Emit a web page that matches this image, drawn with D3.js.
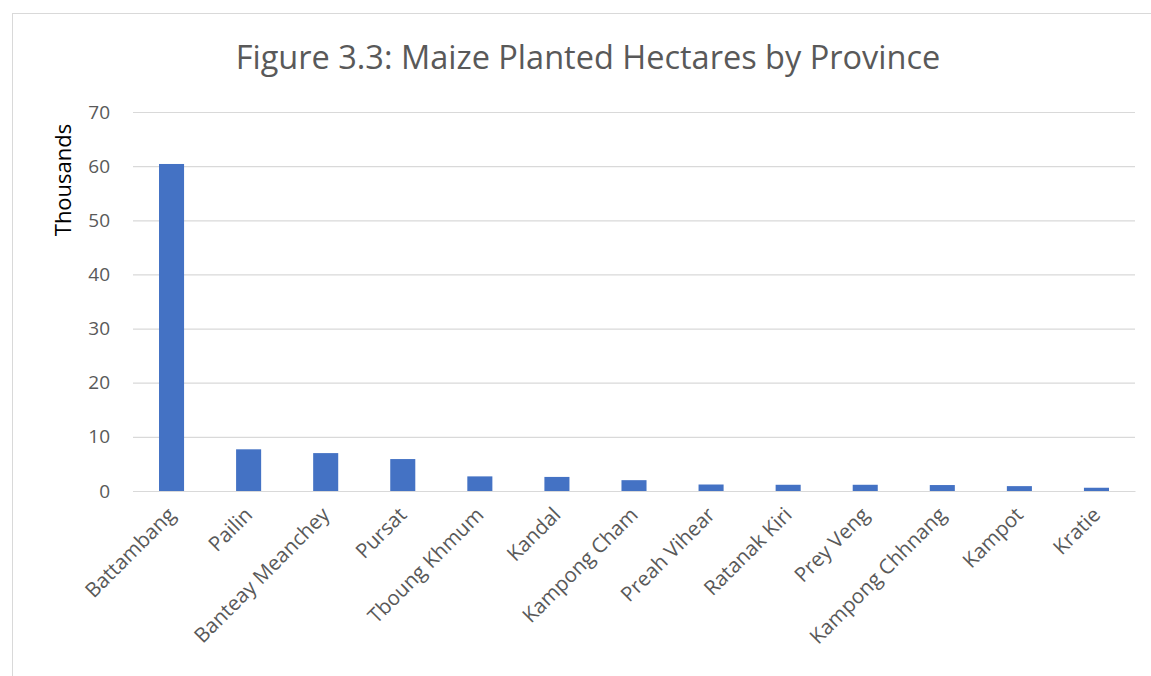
<!DOCTYPE html>
<html>
<head>
<meta charset="utf-8">
<script src="https://cdn.jsdelivr.net/npm/d3@7"></script>
<style>
  body { margin: 0; background: #fff; }
  text { font-family: "Open Sans", "Noto Sans", sans-serif; }
</style>
</head>
<body>
<svg id="chart" width="1151" height="676"></svg>
<script>
const provinces = ["Battambang", "Pailin", "Banteay Meanchey", "Pursat", "Tboung Khmum", "Kandal",
  "Kampong Cham", "Preah Vihear", "Ratanak Kiri", "Prey Veng", "Kampong Chhnang", "Kampot", "Kratie"]
const hectares = [60.4, 7.7, 7.0, 5.9, 2.7, 2.6, 2.0, 1.2, 1.15, 1.15, 1.1, 0.9, 0.6]
const yTicks = [0, 10, 20, 30, 40, 50, 60, 70]

const w = 1151
const h = 676
const plotLeft = 133
const plotRight = 1135
const plotTop = 112
const plotBottom = 491

const svg = d3.select("#chart")

// chart frame (cut off at right and bottom)
svg.append("rect")
  .attr("x", 12.5)
  .attr("y", 13.5)
  .attr("width", w + 20)
  .attr("height", h + 20)
  .attr("fill", "none")
  .attr("stroke", "#d9d9d9")

svg.append("text")
  .attr("x", 588)
  .attr("y", 69)
  .attr("text-anchor", "middle")
  .attr("font-size", 32.5)
  .attr("fill", "#595959")
  .text("Figure 3.3: Maize Planted Hectares by Province")

const xScale = d3.scaleBand()
  .domain(provinces)
  .range([plotLeft, plotRight])
  .paddingInner(0.675)
  .paddingOuter(0.3375)

const yScale = d3.scaleLinear()
  .domain([0, 70])
  .range([plotBottom, plotTop])

const yAxis = d3.axisLeft(yScale)
  .tickValues(yTicks)
  .tickSize(-(plotRight - plotLeft))
  .tickPadding(23)

const gy = svg.append("g")
  .attr("transform", `translate(${plotLeft}, 0)`)
  .call(yAxis)
gy.select(".domain").remove()
gy.selectAll("line").attr("stroke", "#d9d9d9").attr("stroke-width", 1.2)
gy.selectAll("text")
  .attr("fill", "#595959")
  .attr("font-size", 19)

svg.selectAll("rect.bar")
  .data(provinces)
  .enter()
  .append("rect")
  .attr("class", "bar")
  .attr("x", d => xScale(d))
  .attr("y", (d, i) => yScale(hectares[i]))
  .attr("width", xScale.bandwidth())
  .attr("height", (d, i) => plotBottom - yScale(hectares[i]))
  .attr("fill", "#4472c4")

const xAxis = d3.axisBottom(xScale).tickSize(0).tickPadding(0)

const gx = svg.append("g")
  .attr("transform", `translate(0, ${plotBottom})`)
  .call(xAxis)
gx.select(".domain").attr("stroke", "#d9d9d9").attr("stroke-width", 1.2)
gx.selectAll("text")
  .attr("fill", "#595959")
  .attr("font-size", 20.5)
  .attr("text-anchor", "end")
  .attr("dy", "0.35em")
  .attr("transform", "translate(0, 20) rotate(-45)")

svg.append("text")
  .attr("transform", `translate(71, 180) rotate(-90)`)
  .attr("text-anchor", "middle")
  .attr("font-size", 22)
  .attr("fill", "#000")
  .text("Thousands")
</script>
</body>
</html>
